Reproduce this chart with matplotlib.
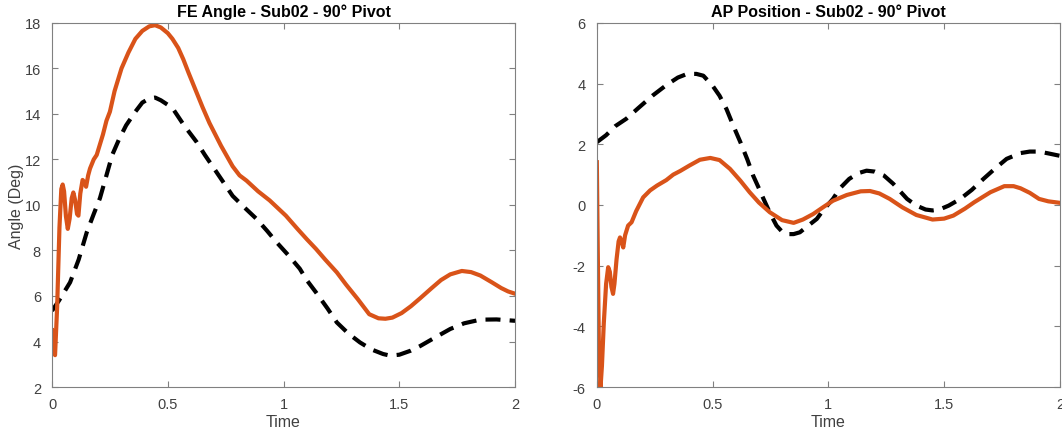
import numpy as np
import matplotlib
matplotlib.use('Agg')
import matplotlib.pyplot as plt

plt.rcParams['font.family'] = ['Liberation Sans', 'DejaVu Sans']
plt.rcParams['axes.unicode_minus'] = False

orange = '#D95319'
axis_grey = '#808080'
text_grey = '#404040'

# FE angle, measured (orange) and model (black dashed)
fe_t_meas = [0.0, 0.006, 0.013, 0.022, 0.032, 0.040, 0.046, 0.052, 0.060, 0.068, 0.076, 0.085,
             0.092, 0.100, 0.108, 0.114, 0.122, 0.132, 0.140, 0.147, 0.156, 0.164, 0.180, 0.193,
             0.205, 0.22, 0.235, 0.25, 0.27, 0.30, 0.33, 0.36, 0.39, 0.42, 0.445, 0.47, 0.50,
             0.52, 0.545, 0.567, 0.59, 0.618, 0.65, 0.68, 0.73, 0.78, 0.81, 0.84, 0.89, 0.94,
             1.01, 1.06, 1.10, 1.14, 1.18, 1.23, 1.27, 1.32, 1.37, 1.41, 1.44, 1.47, 1.51, 1.55,
             1.59, 1.64, 1.68, 1.72, 1.77, 1.81, 1.85, 1.90, 1.94, 1.97, 2.0]
fe_meas = [4.5, 3.6, 3.4, 5.5, 9.0, 10.7, 10.9, 10.6, 9.5, 8.95, 9.4, 10.3,
           10.55, 10.2, 9.6, 9.53, 10.5, 11.1, 11.0, 10.8, 11.3, 11.6, 12.0, 12.2,
           12.6, 13.1, 13.7, 14.1, 15.0, 16.0, 16.7, 17.3, 17.65, 17.85, 17.9, 17.8, 17.55,
           17.3, 16.9, 16.4, 15.8, 15.1, 14.3, 13.6, 12.6, 11.7, 11.3, 11.07, 10.6, 10.2,
           9.53, 8.95, 8.5, 8.07, 7.6, 7.04, 6.5, 5.87, 5.2, 5.02, 5.0, 5.05, 5.25, 5.55,
           5.9, 6.35, 6.7, 6.95, 7.1, 7.05, 6.9, 6.6, 6.35, 6.2, 6.1]

fe_t_model = [0.0, 0.03, 0.078, 0.115, 0.15, 0.18, 0.207, 0.235, 0.26, 0.29, 0.32, 0.36, 0.39,
              0.42, 0.445, 0.47, 0.50, 0.524, 0.57, 0.625, 0.66, 0.70, 0.74, 0.78, 0.83, 0.884,
              0.93, 0.97, 1.02, 1.07, 1.10, 1.14, 1.19, 1.23, 1.28, 1.33, 1.38, 1.43, 1.46, 1.50,
              1.55, 1.59, 1.65, 1.72, 1.78, 1.85, 1.92, 2.0]
fe_model = [5.35, 5.8, 6.6, 7.6, 8.8, 9.6, 10.3, 11.3, 12.2, 12.9, 13.5, 14.1, 14.5,
            14.68, 14.72, 14.6, 14.4, 14.2, 13.5, 12.76, 12.2, 11.6, 11.0, 10.4, 9.9, 9.38,
            8.85, 8.36, 7.8, 7.2, 6.7, 6.16, 5.45, 4.84, 4.35, 3.96, 3.65, 3.45, 3.38, 3.42,
            3.6, 3.8, 4.15, 4.55, 4.8, 4.96, 4.97, 4.91]

# AP position, measured (orange) and model (black dashed)
ap_t_meas = [0.0, 0.004, 0.009, 0.016, 0.022, 0.030, 0.040, 0.049, 0.056, 0.063, 0.070, 0.076,
             0.085, 0.094, 0.100, 0.107, 0.114, 0.122, 0.135, 0.150, 0.17, 0.20, 0.23, 0.26,
             0.30, 0.33, 0.36, 0.40, 0.445, 0.49, 0.53, 0.575, 0.62, 0.66, 0.70, 0.747, 0.80,
             0.85, 0.89, 0.934, 0.98, 1.02, 1.08, 1.14, 1.18, 1.22, 1.265, 1.32, 1.38, 1.45,
             1.50, 1.54, 1.59, 1.63, 1.70, 1.76, 1.80, 1.83, 1.87, 1.91, 1.95, 2.0]
ap_meas = [1.41, -1.5, -4.8, -6.0, -5.3, -3.9, -2.6, -2.05, -2.2, -2.7, -2.93, -2.6,
           -1.8, -1.2, -1.07, -1.2, -1.4, -1.0, -0.68, -0.57, -0.2, 0.25, 0.48, 0.64,
           0.82, 1.0, 1.12, 1.3, 1.49, 1.55, 1.48, 1.19, 0.8, 0.42, 0.08, -0.24, -0.5,
           -0.59, -0.48, -0.3, -0.06, 0.14, 0.33, 0.45, 0.46, 0.38, 0.2, -0.08, -0.33, -0.48,
           -0.45, -0.35, -0.12, 0.09, 0.42, 0.62, 0.62, 0.55, 0.4, 0.2, 0.12, 0.07]

ap_t_model = [0.0, 0.04, 0.08, 0.127, 0.18, 0.24, 0.30, 0.35, 0.39, 0.43, 0.46, 0.50, 0.53,
              0.56, 0.59, 0.62, 0.65, 0.675, 0.70, 0.72, 0.75, 0.776, 0.80, 0.82, 0.85, 0.877,
              0.91, 0.95, 0.98, 1.02, 1.05, 1.09, 1.13, 1.165, 1.20, 1.24, 1.28, 1.34, 1.38,
              1.42, 1.45, 1.48, 1.52, 1.57, 1.62, 1.67, 1.72, 1.77, 1.83, 1.87, 1.91, 1.95, 2.0]
ap_model = [2.07, 2.3, 2.6, 2.84, 3.2, 3.6, 3.95, 4.2, 4.32, 4.32, 4.26, 3.93, 3.6,
            3.16, 2.6, 2.07, 1.5, 0.97, 0.55, 0.2, -0.3, -0.68, -0.88, -0.96, -0.96, -0.9,
            -0.7, -0.46, -0.15, 0.2, 0.55, 0.86, 1.05, 1.13, 1.1, 0.97, 0.7, 0.2, -0.02,
            -0.15, -0.18, -0.15, -0.02, 0.2, 0.5, 0.86, 1.2, 1.52, 1.71, 1.76, 1.76, 1.7, 1.62]

x_ticks = [0, 0.5, 1, 1.5, 2]
x_tick_labels = ['0', '0.5', '1', '1.5', '2']


def style_axes(ax):
    for s in ax.spines.values():
        s.set_color(axis_grey)
        s.set_linewidth(0.8)
    ax.tick_params(direction='in', length=4, width=0.8, color=axis_grey,
                   labelcolor=text_grey, labelsize=10.5, top=True, right=True)
    ax.tick_params(axis='x', pad=7)
    ax.tick_params(axis='y', pad=8)
    ax.set_xlim(0, 2)
    ax.set_xticks(x_ticks)
    ax.set_xticklabels(x_tick_labels)
    ax.set_xlabel('Time', fontsize=11.5, color=text_grey, labelpad=2)


fig = plt.figure(figsize=(10.62, 4.35), dpi=100)
ax1 = fig.add_axes([0.049, 0.108, 0.436, 0.837])
ax2 = fig.add_axes([0.562, 0.108, 0.436, 0.837])

ax1.plot(fe_t_model, fe_model, color='black', lw=3, dashes=(3.6, 2.2), dash_capstyle='butt')
ax1.plot(fe_t_meas, fe_meas, color=orange, lw=3)
style_axes(ax1)
ax1.set_ylim(2, 18)
ax1.set_yticks(np.arange(2, 19, 2))
ax1.set_ylabel('Angle (Deg)', fontsize=11.5, color=text_grey, va='center')
ax1.yaxis.set_label_coords(-0.077, 0.5)
ax1.set_title('FE Angle - Sub02 - 90° Pivot', fontsize=11.5, fontweight='bold', pad=5)

ax2.plot(ap_t_model, ap_model, color='black', lw=3, dashes=(3.6, 2.2), dash_capstyle='butt')
ax2.plot(ap_t_meas, ap_meas, color=orange, lw=3)
style_axes(ax2)
ax2.set_ylim(-6, 6)
ax2.set_yticks(np.arange(-6, 7, 2))
ax2.set_title('AP Position - Sub02 - 90° Pivot', fontsize=11.5, fontweight='bold', pad=5)

plt.savefig('out.png', dpi=100)
